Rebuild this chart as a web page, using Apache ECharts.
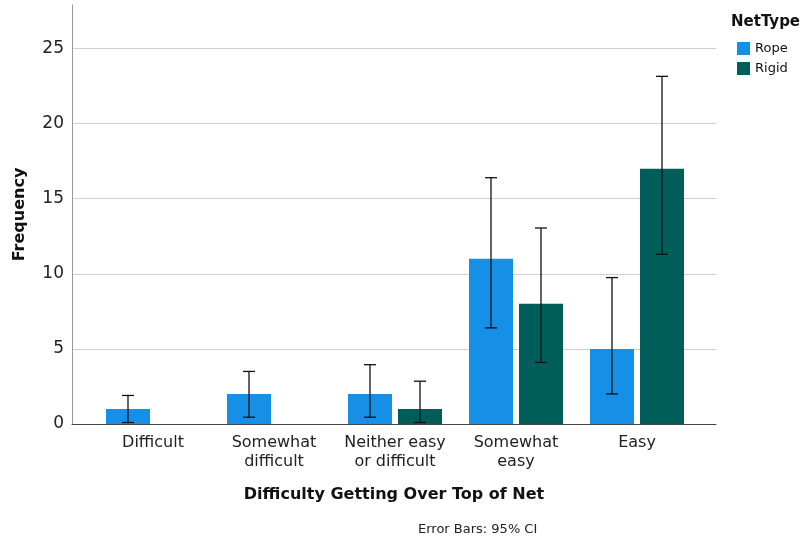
<!DOCTYPE html>
<html>
<head>
<meta charset="utf-8">
<script src="https://cdn.jsdelivr.net/npm/echarts@6/dist/echarts.min.js"></script>
<style>
  html, body { margin: 0; padding: 0; background: #fff; }
  #chart { width: 801px; height: 539px; }
</style>
</head>
<body>
<div id="chart"></div>
<script>
var categories = ['Difficult', 'Somewhat\ndifficult', 'Neither easy\nor difficult', 'Somewhat\neasy', 'Easy'];
var seriesNames = ['Rope', 'Rigid'];
var ropeValues = [1, 2, 2, 11, 5];
var rigidValues = [0, 0, 1, 8, 17];
// 95% CI bounds [low, high]
var ropeCI = [[0.1, 1.9], [0.45, 3.5], [0.45, 3.95], [6.4, 16.4], [2.0, 9.75]];
var rigidCI = [null, null, [0.1, 2.85], [4.1, 13.05], [11.3, 23.15]];
var yTicks = [0, 5, 10, 15, 20, 25];

var FONT = 'DejaVu Sans';
var BAR_W = 44, BAR_GAP = 6;

function errorBarSeries(name, ci, side) {
	var data = [];
	for (var i = 0; i < ci.length; i++) {
		if (ci[i]) data.push([i, ci[i][0], ci[i][1]]);
	}
	return {
		type: 'custom',
		name: name + ' CI',
		xAxisIndex: 1,
		yAxisIndex: 1,
		z: 10,
		silent: true,
		data: data,
		renderItem: function (params, api) {
			var off = side * (BAR_W / 2 + BAR_GAP / 2);
			var lo = api.coord([api.value(0), api.value(1)]);
			var hi = api.coord([api.value(0), api.value(2)]);
			var x = lo[0] + off, cap = 6;
			var st = { stroke: '#111', lineWidth: 1.3 };
			return {
				type: 'group',
				children: [
					{ type: 'line', shape: { x1: x, y1: lo[1], x2: x, y2: hi[1] }, style: st },
					{ type: 'line', shape: { x1: x - cap, y1: lo[1], x2: x + cap, y2: lo[1] }, style: st },
					{ type: 'line', shape: { x1: x - cap, y1: hi[1], x2: x + cap, y2: hi[1] }, style: st }
				]
			};
		}
	};
}

var myChart = echarts.init(document.getElementById('chart'));
var option = {
	animation: false,
	color: ['#1690e6', '#005e5a'],
	textStyle: { fontFamily: FONT },
	title: [{
		text: 'NetType',
		left: 726,
		top: 10,
		textStyle: { fontFamily: FONT, fontSize: 15, fontWeight: 'bold', color: '#111' }
	}, {
		text: 'Error Bars: 95% CI',
		left: 413,
		top: 518,
		textStyle: { fontFamily: FONT, fontSize: 13, fontWeight: 'normal', color: '#222' }
	}],
	legend: {
		data: seriesNames,
		orient: 'vertical',
		left: 732,
		top: 37,
		itemWidth: 13,
		itemHeight: 13,
		itemGap: 7,
		icon: 'rect',
		textStyle: { fontFamily: FONT, fontSize: 13, color: '#111' }
	},
	grid: [
		{ left: 72, right: 85, top: 5, bottom: 115, outerBoundsMode: 'none' },
		{ left: 92.5, right: 103.5, top: 5, bottom: 115, outerBoundsMode: 'none' }
	],
	xAxis: [{
		type: 'value',
		gridIndex: 0,
		min: 0,
		max: 1,
		axisLine: { show: true, lineStyle: { color: '#444', width: 1 } },
		axisTick: { show: false },
		axisLabel: { show: false },
		splitLine: { show: false },
		name: 'Difficulty Getting Over Top of Net',
		nameLocation: 'middle',
		nameGap: 63,
		nameTextStyle: { fontFamily: FONT, fontSize: 16, fontWeight: 'bold', color: '#111' }
	}, {
		type: 'category',
		gridIndex: 1,
		data: categories,
		axisLine: { show: false },
		axisTick: { show: false },
		axisLabel: {
			interval: 0,
			margin: 9,
			fontFamily: FONT,
			fontSize: 16,
			lineHeight: 19,
			color: '#222'
		}
	}],
	yAxis: [{
		type: 'value',
		gridIndex: 0,
		min: 0,
		max: 27.9,
		interval: 5,
		name: 'Frequency',
		nameLocation: 'middle',
		nameGap: 44,
		nameRotate: 90,
		nameTextStyle: { fontFamily: FONT, fontSize: 16, fontWeight: 'bold', color: '#111' },
		axisLine: { show: true, lineStyle: { color: '#999', width: 1 } },
		axisTick: { show: false },
		axisLabel: {
			fontFamily: FONT,
			fontSize: 17,
			color: '#222',
			margin: 8,
			showMaxLabel: false,
			formatter: function (v) { return yTicks.indexOf(v) >= 0 ? String(v) : ''; }
		},
		splitLine: { show: true, showMaxLine: false, lineStyle: { color: '#cfcfcf', width: 1 } }
	}, {
		type: 'value',
		gridIndex: 1,
		min: 0,
		max: 27.9,
		interval: 5,
		show: false
	}],
	series: [{
		name: 'Rope',
		type: 'bar',
		xAxisIndex: 1,
		yAxisIndex: 1,
		barWidth: BAR_W,
		barGap: (BAR_GAP / BAR_W * 100) + '%',
		itemStyle: { color: '#1690e6' },
		data: ropeValues
	}, {
		name: 'Rigid',
		type: 'bar',
		xAxisIndex: 1,
		yAxisIndex: 1,
		barWidth: BAR_W,
		barGap: (BAR_GAP / BAR_W * 100) + '%',
		itemStyle: { color: '#005e5a' },
		data: rigidValues
	},
	errorBarSeries('Rope', ropeCI, -1),
	errorBarSeries('Rigid', rigidCI, 1)
	]
};
myChart.setOption(option);
</script>
</body>
</html>
